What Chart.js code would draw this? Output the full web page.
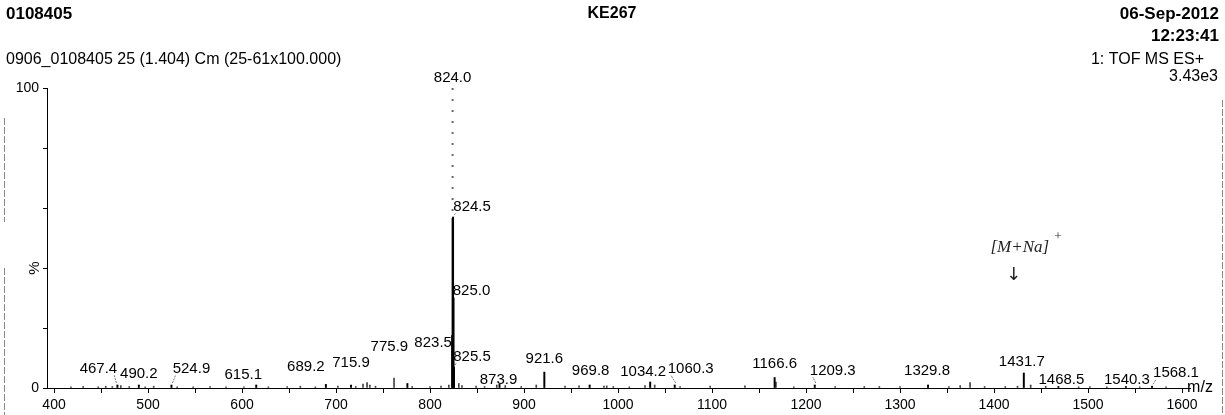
<!DOCTYPE html>
<html>
<head>
<meta charset="utf-8">
<title>0108405 KE267</title>
<script src="https://cdn.jsdelivr.net/npm/chart.js@4.4.1/dist/chart.umd.min.js"></script>
<style>
    html, body { margin: 0; padding: 0; background: #fff; }
    canvas { display: block; }
</style>
</head>
<body>
<canvas id="spectrumChart" width="1225" height="415"></canvas>
<script>
// Etiketli tepeler (m/z ve bağıl şiddet %)
const peakMz = [467.4, 490.2, 524.9, 615.1, 689.2, 715.9, 775.9, 823.5, 824.0, 824.5, 825.0, 825.5,
    873.9, 921.6, 969.8, 1034.2, 1060.3, 1166.6, 1209.3, 1329.8, 1431.7, 1468.5, 1540.3, 1568.1];
const peakInt = [1.0, 1.0, 1.0, 1.0, 1.2, 1.0, 1.5, 17.5, 100, 57, 30, 7,
    1.2, 5.3, 1.0, 2.0, 1.0, 3.5, 1.0, 1.0, 5.0, 0.5, 0.5, 0.6];
const peakLabels = ['467.4', '490.2', '524.9', '615.1', '689.2', '715.9', '775.9', '823.5', '824.0', '824.5', '825.0', '825.5',
    '873.9', '921.6', '969.8', '1034.2', '1060.3', '1166.6', '1209.3', '1329.8', '1431.7', '1468.5', '1540.3', '1568.1'];

// Etiketsiz küçük tepeler (taban gürültüsü)
const noiseMz = [418, 431, 447, 455, 462, 471, 480, 497, 506, 531, 548, 566, 583, 602, 628, 648, 662, 678,
    702, 721, 728.7, 733, 736, 742, 761.7, 781, 800, 811.7, 820, 830.6, 834, 849, 858, 871, 880, 897, 913,
    943.6, 958.5, 985, 988, 995, 1012, 1028.7, 1039, 1066, 1098, 1135, 1168, 1187, 1231, 1262, 1278, 1300,
    1352, 1364, 1374.5, 1390, 1412, 1425, 1439, 1455, 1490, 1502, 1520, 1555, 1583];
const noiseInt = [0.4, 0.5, 0.4, 0.6, 0.5, 0.8, 0.5, 0.4, 0.6, 0.4, 0.4, 0.5, 0.4, 0.4, 0.4, 0.5, 0.6, 0.4,
    0.6, 0.5, 1.3, 1.8, 1.0, 0.6, 3.3, 0.5, 0.5, 0.6, 1.0, 1.5, 0.8, 0.6, 0.5, 1.0, 0.8, 0.5, 1.0,
    0.6, 0.7, 0.6, 0.7, 0.5, 0.4, 0.8, 1.0, 0.5, 0.6, 0.7, 2.0, 0.4, 0.5, 0.5, 0.5, 0.5,
    0.5, 0.8, 1.8, 0.5, 0.5, 0.6, 1.0, 0.6, 0.4, 0.5, 0.4, 0.4, 0.4];

// Eksen aralıkları ve tik etiketleri
const xMin = 392.5;
const xMax = 1608.5;
const xTickLabels = [400, 500, 600, 700, 800, 900, 1000, 1100, 1200, 1300, 1400, 1500, 1600];
const yTickLabels = [0, 100];

// Etiket kaydırmaları (piksel) ve kılavuz çizgileri
const labelDx = [-19, 0, 20, -13, -20, 0, -18, -19, 0, 19, 18, 18, -1, 0, 1, -7, 16, 0, 18, -1, -2, 3, 1, 24];
const labelDy = [-6, -1, -6, 0, -8, -12, -27, 17, 0, 0, 3, 0, 5, -3, -4, 0, -6, -4, -4, -4, -1, 3, 3, -3];
const labelLeader = [true, false, true, false, false, false, false, false, false, true, false, true,
    false, false, false, false, true, false, true, false, false, false, false, true];

const FONT = '"Liberation Sans", Arial, sans-serif';

// Yazı çizme yardımcısı
function drawText(ctx, text, x, y, font, align) {
    ctx.font = font;
    ctx.textAlign = align || 'left';
    ctx.textBaseline = 'middle';
    ctx.fillStyle = '#000';
    ctx.fillText(text, x, y);
}

// Ana tepenin üst kısmı taramada kesikli görünüyor
let topPattern = null;
function peakColor(context) {
    if (!context.raw || context.raw.y < 100) return '#000';
    if (!topPattern) {
        const chart = context.chart;
        const cut = chart.scales.y.getPixelForValue(peakInt[9]);
        const c = document.createElement('canvas');
        c.width = 1;
        c.height = chart.height;
        const pctx = c.getContext('2d');
        for (let y = 0; y < c.height; y++) {
            if (y >= cut) {
                pctx.fillStyle = '#000';
            } else {
                pctx.fillStyle = (y % 11) < 2 ? '#666' : '#fff';
            }
            pctx.fillRect(0, y, 1, 1);
        }
        topPattern = chart.ctx.createPattern(c, 'repeat');
    }
    return topPattern;
}

// Tepe etiketleri, başlıklar ve not
const spectrumLabels = {
    id: 'spectrumLabels',
    afterDatasetsDraw(chart) {
        const ctx = chart.ctx;
        const xs = chart.scales.x;
        const ys = chart.scales.y;
        ctx.save();
        peakMz.forEach((mz, i) => {
            const px = xs.getPixelForValue(mz);
            const py = ys.getPixelForValue(peakInt[i]);
            const lx = px + labelDx[i];
            const ly = py - 10 + labelDy[i];
            drawText(ctx, peakLabels[i], lx, ly, '15px ' + FONT, 'center');
            if (labelLeader[i]) {
                const w = ctx.measureText(peakLabels[i]).width;
                const side = labelDx[i] < 0 ? -1 : 1;
                ctx.beginPath();
                ctx.strokeStyle = '#555';
                ctx.lineWidth = 0.8;
                ctx.setLineDash([2, 1]);
                ctx.moveTo(px + side, py - 2);
                ctx.lineTo(lx - side * (w / 2 - 3), ly + 6);
                ctx.stroke();
                ctx.setLineDash([]);
            }
        });
        ctx.restore();
    },
    afterDraw(chart) {
        const ctx = chart.ctx;
        const area = chart.chartArea;
        const xs = chart.scales.x;
        const ys = chart.scales.y;
        ctx.save();

        // Başlık satırları
        drawText(ctx, '0108405', 6, 14, 'bold 17px ' + FONT, 'left');
        drawText(ctx, 'KE267', 612, 14, 'bold 16px ' + FONT, 'center');
        drawText(ctx, '06-Sep-2012', 1219, 14, 'bold 17px ' + FONT, 'right');
        drawText(ctx, '12:23:41', 1219, 36, 'bold 17px ' + FONT, 'right');
        drawText(ctx, '0906_0108405 25 (1.404) Cm (25-61x100.000)', 6, 60, '16px ' + FONT, 'left');
        drawText(ctx, '1: TOF MS ES+', 1204, 60, '16px ' + FONT, 'right');
        drawText(ctx, '3.43e3', 1218, 77, '16px ' + FONT, 'right');

        // Eksen adları
        ctx.save();
        ctx.translate(35, 268);
        ctx.rotate(-Math.PI / 2);
        drawText(ctx, '%', 0, 0, '15px ' + FONT, 'center');
        ctx.restore();
        drawText(ctx, 'm/z', area.right + 10, area.bottom, '16px ' + FONT, 'center');

        // El yazısı not: [M+Na]+
        const ax = xs.getPixelForValue(1431.7);
        const ay = ys.getPixelForValue(5.0);
        ctx.fillStyle = '#222';
        ctx.font = 'italic 17px "Liberation Serif", serif';
        ctx.textAlign = 'center';
        ctx.textBaseline = 'middle';
        ctx.fillText('[M+Na]', ax - 4, ay - 125);
        ctx.font = 'italic 13px "Liberation Serif", serif';
        ctx.fillText('+', ax + 34, ay - 136);
        ctx.font = '18px "DejaVu Sans", sans-serif';
        ctx.fillText('\u2193', ax - 10, ay - 98);

        // Taranmış sayfa kenarları
        ctx.strokeStyle = '#888';
        ctx.lineWidth = 1;
        ctx.setLineDash([7, 2]);
        ctx.beginPath();
        ctx.moveTo(4.5, 118);
        ctx.lineTo(4.5, 222);
        ctx.moveTo(4.5, 268);
        ctx.lineTo(4.5, 415);
        ctx.moveTo(1222.5, 100);
        ctx.lineTo(1222.5, 415);
        ctx.stroke();
        ctx.restore();
    }
};

// Grafiği oluştur
const spectrumCtx = document.getElementById('spectrumChart').getContext('2d');
const spectrumChart = new Chart(spectrumCtx, {
    type: 'bar',
    data: {
        datasets: [{
            label: 'Tepeler',
            data: peakMz.map((mz, i) => ({ x: mz, y: peakInt[i] })),
            backgroundColor: peakColor,
            barThickness: 1.3,
            grouped: false
        }, {
            label: 'Gürültü',
            data: noiseMz.map((mz, i) => ({ x: mz, y: noiseInt[i] })),
            backgroundColor: '#444',
            barThickness: 1,
            grouped: false
        }]
    },
    options: {
        responsive: false,
        animation: false,
        devicePixelRatio: 1,
        layout: {
            padding: { top: 88, right: 35, left: 0, bottom: 0 }
        },
        plugins: {
            legend: { display: false },
            tooltip: { enabled: false }
        },
        scales: {
            x: {
                type: 'linear',
                min: xMin,
                max: xMax,
                offset: false,
                grid: { drawOnChartArea: false, tickLength: 5, color: '#000', offset: false },
                border: { color: '#000' },
                ticks: {
                    stepSize: 50,
                    autoSkip: false,
                    maxRotation: 0,
                    includeBounds: false,
                    padding: 4,
                    color: '#000',
                    font: { family: FONT, size: 14 },
                    callback: v => xTickLabels.includes(v) ? String(v) : ''
                },
                afterFit: scale => { scale.height = 27; }
            },
            y: {
                min: 0,
                max: 100,
                grid: { drawOnChartArea: false, tickLength: 4, color: '#000' },
                border: { color: '#000' },
                ticks: {
                    stepSize: 20,
                    padding: 4,
                    color: '#000',
                    font: { family: FONT, size: 14 },
                    callback: v => yTickLabels.includes(v) ? String(v) : ''
                },
                afterFit: scale => { scale.width = 47; }
            }
        }
    },
    plugins: [spectrumLabels]
});
</script>
</body>
</html>
